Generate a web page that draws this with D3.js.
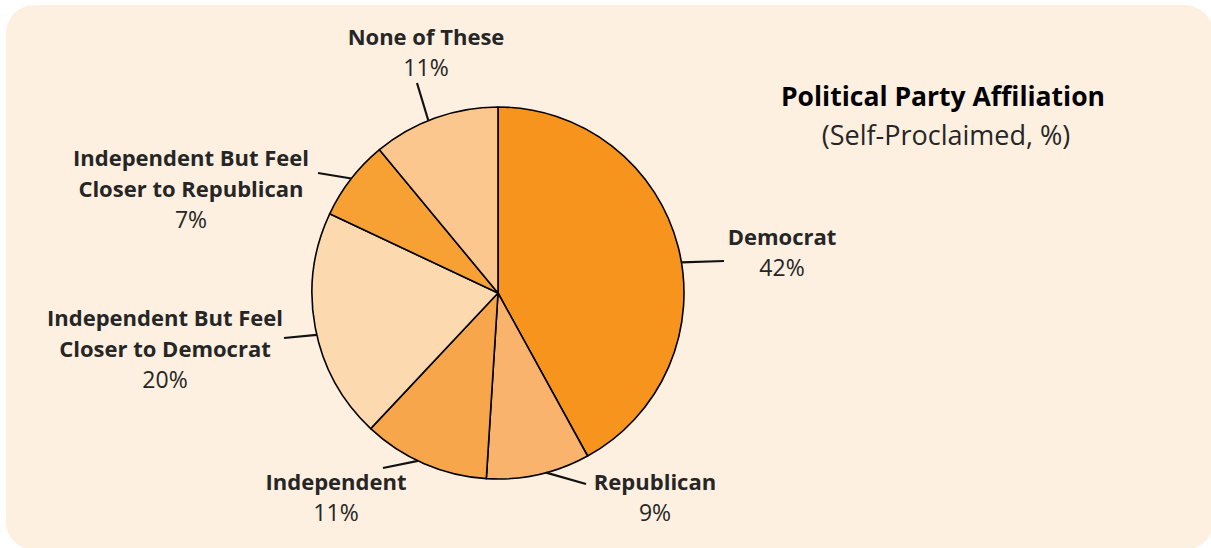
<!DOCTYPE html>
<html>
<head>
<meta charset="utf-8">
<script src="https://cdn.jsdelivr.net/npm/d3@7"></script>
<style>
  html, body { margin: 0; padding: 0; background: #ffffff; }
  svg { display: block; }
  text { font-family: "Open Sans", Lato, sans-serif; }
</style>
</head>
<body>
<svg id="chart" width="1211" height="548"></svg>
<script>
// data
const categories = ['Democrat', 'Republican', 'Independent', 'Independent But Feel Closer to Democrat', 'Independent But Feel Closer to Republican', 'None of These'];
const values = [42, 9, 11, 20, 7, 11];
const labelLines = [
  ['Democrat'],
  ['Republican'],
  ['Independent'],
  ['Independent But Feel', 'Closer to Democrat'],
  ['Independent But Feel', 'Closer to Republican'],
  ['None of These']
];
const colors = ['#f7941d', '#f9b36c', '#f8a64b', '#fdd9b0', '#f7a134', '#fcc68f'];

// label layout: leader start angle (deg), leader end point, text centre x, first baseline y
const labelPos = [
  { la: 80.5, lx: 724, ly: 261, tx: 782, ty: 245 },
  { la: 165, lx: 586, ly: 484, tx: 655, ty: 490 },
  { la: 205.5, lx: 383, ly: 468, tx: 336, ty: 490 },
  { la: 257, lx: 284, ly: 338, tx: 165, ty: 326 },
  { la: 308, lx: 318, ly: 173, tx: 191, ty: 166 },
  { la: 338, lx: 417, ly: 83, tx: 426, ty: 45 }
];

const w = 1211, h = 548;
const cx = 498, cy = 293, r = 186;

const svg = d3.select('#chart');

svg.append('rect')
  .attr('x', 6).attr('y', 5)
  .attr('width', w - 4).attr('height', h - 3)
  .attr('rx', 28)
  .attr('fill', '#fef0e1');

const data = categories.map((c, i) => ({ name: c, value: values[i], lines: labelLines[i], color: colors[i], pos: labelPos[i] }));

const pie = d3.pie().sort(null).value(d => d.value);
const arc = d3.arc().innerRadius(0).outerRadius(r);

const g = svg.append('g').attr('transform', 'translate(' + cx + ',' + cy + ')');
const arcs = pie(data);

g.selectAll('path.slice')
  .data(arcs)
  .enter()
  .append('path')
  .attr('class', 'slice')
  .attr('d', arc)
  .attr('fill', d => d.data.color)
  .attr('stroke', '#000')
  .attr('stroke-width', 1.6)
  .attr('stroke-linejoin', 'round');

// leader lines, starting on the rim
const rad = a => a * Math.PI / 180;
g.selectAll('line.leader')
  .data(arcs)
  .enter()
  .append('line')
  .attr('class', 'leader')
  .attr('x1', d => r * Math.sin(rad(d.data.pos.la)))
  .attr('y1', d => -r * Math.cos(rad(d.data.pos.la)))
  .attr('x2', d => d.data.pos.lx - cx)
  .attr('y2', d => d.data.pos.ly - cy)
  .attr('stroke', '#111')
  .attr('stroke-width', 2.2);

// labels
const lineH = 31;
const labels = svg.selectAll('g.label')
  .data(data)
  .enter()
  .append('g')
  .attr('class', 'label');

labels.each(function(d) {
  const el = d3.select(this);
  d.lines.forEach((t, k) => {
    el.append('text')
      .attr('x', d.pos.tx)
      .attr('y', d.pos.ty + k * lineH)
      .attr('text-anchor', 'middle')
      .attr('font-size', 22)
      .attr('font-weight', 'bold')
      .attr('fill', '#262626')
      .text(t);
  });
  el.append('text')
    .attr('x', d.pos.tx)
    .attr('y', d.pos.ty + d.lines.length * lineH)
    .attr('text-anchor', 'middle')
    .attr('font-size', 23)
    .attr('fill', '#262626')
    .text(d.value + '%');
});

// title
svg.append('text')
  .attr('x', 943).attr('y', 106)
  .attr('text-anchor', 'middle')
  .attr('font-size', 26.5)
  .attr('font-weight', 'bold')
  .attr('fill', '#000')
  .text('Political Party Affiliation');

svg.append('text')
  .attr('x', 946).attr('y', 145)
  .attr('text-anchor', 'middle')
  .attr('font-size', 27)
  .attr('fill', '#262626')
  .text('(Self-Proclaimed, %)');
</script>
</body>
</html>
